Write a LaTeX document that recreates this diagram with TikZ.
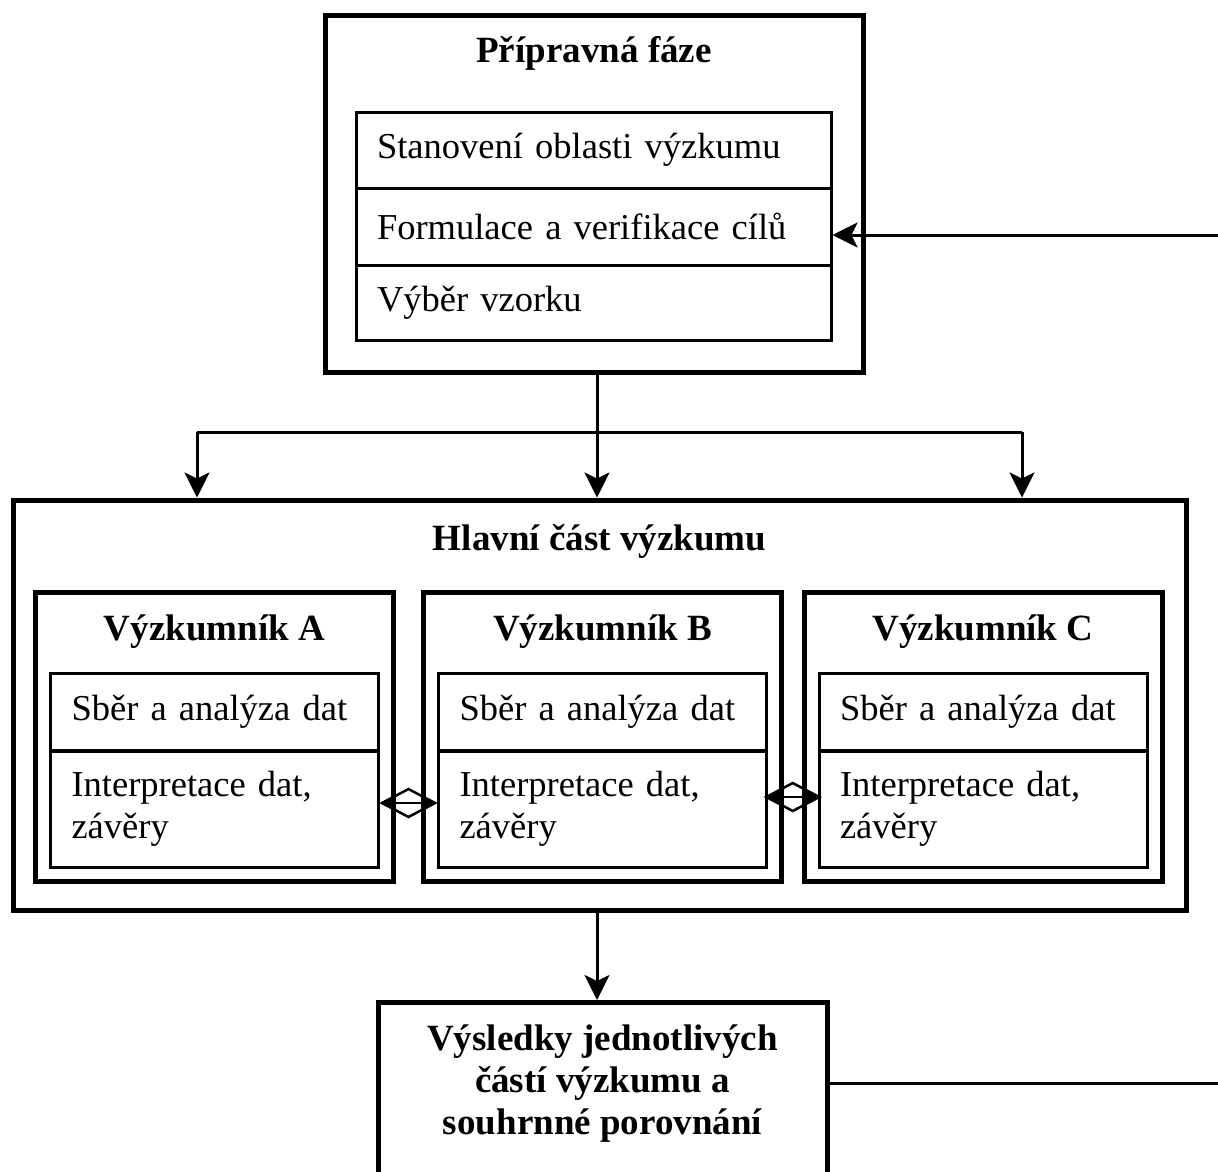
\documentclass[tikz,border=0pt]{standalone}
\usepackage{fontspec}
\setmainfont{Liberation Serif}
\usetikzlibrary{arrows.meta,shapes.geometric}

\begin{document}
\begin{tikzpicture}[x=1pt,y=-1pt,
  every node/.style={font=\fontsize{36.5}{42}\selectfont},
  heavybox/.style={draw, line width=5pt, inner sep=0pt},
  rowbox/.style={draw, line width=3pt, inner xsep=21pt, inner ysep=0pt, align=left},
  heading/.style={font=\fontsize{37}{42}\selectfont\bfseries, inner sep=0pt},
  link/.style={line width=3pt},
  flow/.style={link, -{Stealth[length=25pt,width=25pt,inset=6pt]}},
  swap/.style={line width=2.5pt, {Stealth[length=15pt,width=16pt]}-{Stealth[length=15pt,width=16pt]}},
  rhomb/.style={diamond, draw, line width=2.5pt, inner sep=0pt, minimum width=54pt, minimum height=29pt}
]
\useasboundingbox (0,0) rectangle (1218,1171);

% preparatory phase
\node[heavybox, minimum width=538pt, minimum height=357pt] (prep) at (594,193.5) {};
\node[heading] (preptitle) at (594,53) {Přípravná fáze};
\node[rowbox, minimum width=475pt, minimum height=76pt, text width=433pt] (p1) at (593.5,150) {Stanovení oblasti výzkumu};
\node[rowbox, minimum width=475pt, minimum height=77pt, text width=433pt] (p2) at (593.5,226.5) {Formulace a verifikace cílů};
\node[rowbox, minimum width=475pt, minimum height=75pt, text width=433pt] (p3) at (593.5,302.5) {Výběr vzorku};

% main part
\node[heavybox, minimum width=1173pt, minimum height=410pt] (main) at (599.5,705) {};
\node[heading] (maintitle) at (599.5,541) {Hlavní část výzkumu};

% researchers
\foreach \n/\x/\lab in {A/214.5/Výzkumník A, B/602.5/Výzkumník B, C/983/Výzkumník C}{
  \node[heavybox, minimum width=358pt, minimum height=289pt] (\n) at (\x,736.5) {};
  \node[heading] (\n t) at (\x,632) {\lab};
  \node[rowbox, minimum width=328pt, minimum height=77pt, text width=286pt] (\n1) at (\x,711.5) {Sběr a analýza dat};
  \node[rowbox, minimum width=328pt, minimum height=116pt, text width=286pt] (\n2) at (\x,809) {Interpretace dat,\\závěry};
}

% results
\node[heavybox, minimum width=449pt, minimum height=200pt, anchor=north] (res) at (602.5,1000) {};
\node[heading, align=center] (restext) at (602.5,1084) {Výsledky jednotlivých\\částí výzkumu a\\souhrnné porovnání};

% connectors
\coordinate (split) at (597,432);
\coordinate (splitL) at (197,432);
\coordinate (splitR) at (1022,432);
\draw[link] (prep.south -| split) -- (split);
\draw[link] (splitL) -- (splitR);
\draw[flow] (split) -- (split |- main.north);
\draw[flow] (splitL) -- (splitL |- main.north);
\draw[flow] (splitR) -- (splitR |- main.north);

\draw[flow] (main.south -| split) -- (split |- res.north);

\coordinate (backin) at (1218,235);
\draw[flow] (backin) -- (backin -| p2.east);
\coordinate (backout) at (1218,1083);
\draw[link] (backout -| res.east) -- (backout);

\draw[swap] ([yshift=6pt]A2.east) -- node[rhomb] (ab) {} ([yshift=6pt]B2.west);
\draw[swap] ([yshift=12pt]B2.east) -- node[rhomb] (bc) {} ([yshift=12pt]C2.west);
\end{tikzpicture}
\end{document}
